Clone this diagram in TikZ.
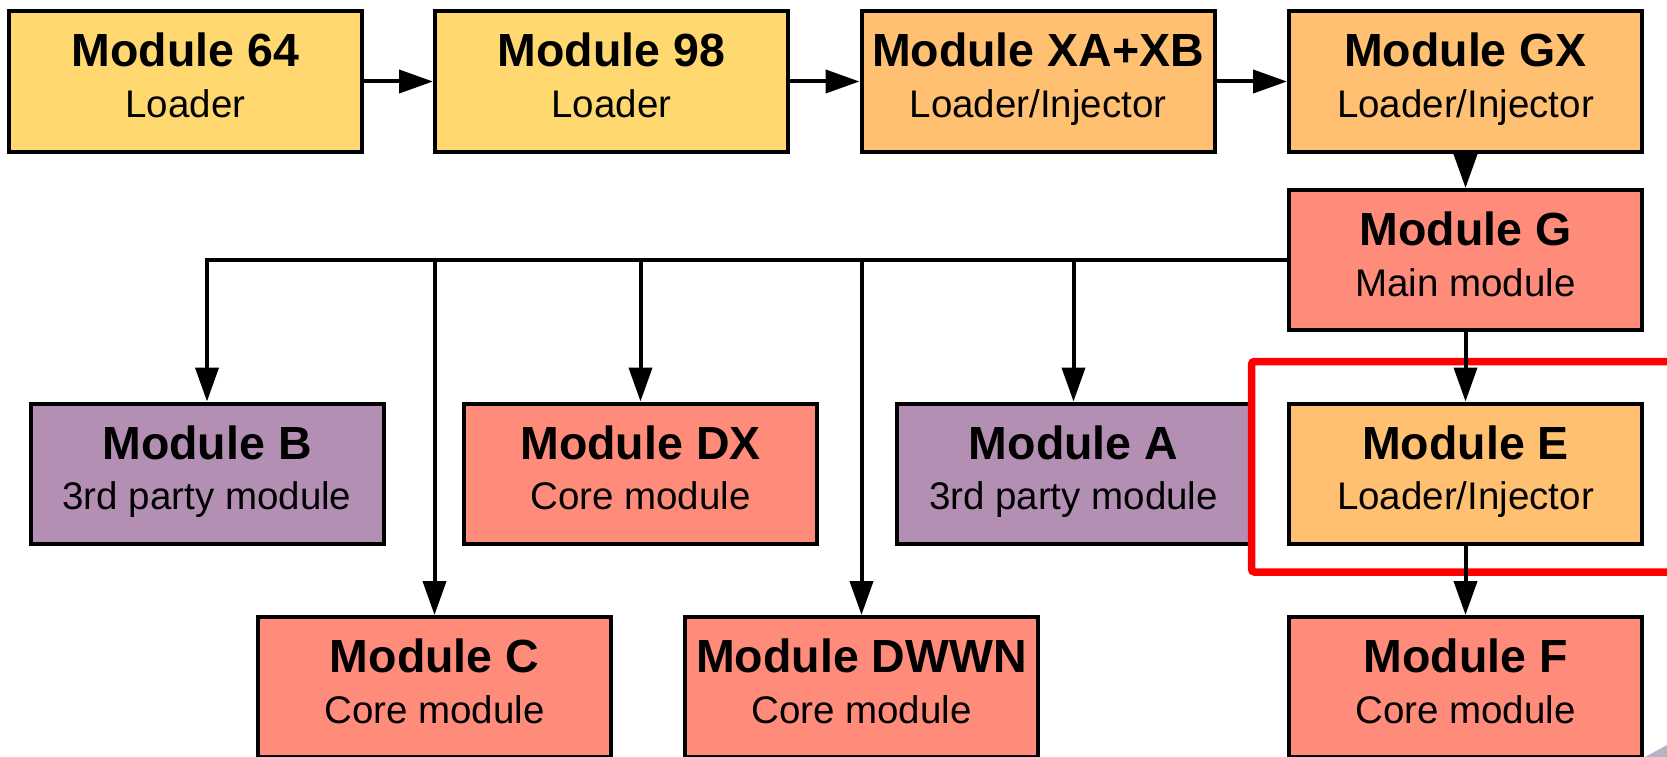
\documentclass[tikz,border=0pt]{standalone}
\usepackage{fontspec}
\setmainfont{Liberation Sans}
\usetikzlibrary{arrows.meta}

\definecolor{loaderyellow}{HTML}{FFD96F}
\definecolor{injectororange}{HTML}{FFC171}
\definecolor{coresalmon}{HTML}{FF8B7B}
\definecolor{thirdpurple}{HTML}{B48FB4}
\definecolor{curlgrey}{HTML}{B4B4C6}

\tikzset{
  modbox/.style={draw=black, line width=4pt, minimum width=353pt,
                 minimum height=140pt, inner sep=0pt},
  ttl/.style={font=\fontsize{46.5}{50}\selectfont\bfseries, anchor=base, inner sep=0pt},
  sub/.style={font=\fontsize{38.5}{42}\selectfont, anchor=base, inner sep=0pt},
  link/.style={line width=4pt, -{Triangle[length=34pt,width=23pt]}},
  highlight/.style={draw=red, line width=7.5pt, rounded corners=3pt},
}

% name, position, fill colour, title, subtitle
\newcommand\modnode[5]{%
  \node[modbox, fill=#3] (#1) at (#2) {};
  \node[ttl] (#1-t) at ([yshift=14.5pt]#1.center) {#4};
  \node[sub] (#1-s) at ([yshift=-36pt]#1.center) {#5};
}

\begin{document}
\begin{tikzpicture}[x=1pt, y=-1pt]
  \clip (0,0) rectangle (1667,757);
  \fill[white] (0,0) rectangle (1667,757);

  % top chain of loaders
  \modnode{m64}{185.5,81.5}{loaderyellow}{Module 64}{Loader}
  \modnode{m98}{611.5,81.5}{loaderyellow}{Module 98}{Loader}
  \modnode{mxa}{1038,81.5}{injectororange}{Module XA+XB}{Loader/Injector}
  \modnode{mgx}{1465.5,81.5}{injectororange}{Module GX}{Loader/Injector}

  % main module
  \modnode{mg}{1465.5,260}{coresalmon}{Module G}{Main module}

  % second row
  \modnode{mb}{207,473.5}{thirdpurple}{Module B}{3rd party module}
  \modnode{mdx}{640.5,473.5}{coresalmon}{Module DX}{Core module}
  \modnode{ma}{1073.5,473.5}{thirdpurple}{Module A}{3rd party module}
  \modnode{me}{1465.5,473.5}{injectororange}{Module E}{Loader/Injector}

  % bottom row
  \modnode{mc}{434.5,687}{coresalmon}{Module C}{Core module}
  \modnode{mdw}{861.5,687}{coresalmon}{Module DWWN}{Core module}
  \modnode{mf}{1465.5,687}{coresalmon}{Module F}{Core module}

  % highlight round Module E
  \draw[highlight] (1251.5,361.5) rectangle (1672,572);

  % connectors
  \draw[link] (m64) -- (m98);
  \draw[link] (m98) -- (mxa);
  \draw[link] (mxa) -- (mgx);
  \draw[link] (mgx) -- (mg);
  \draw[link] (mg) -- (me);
  \draw[link] (me) -- (mf);

  \draw[link] (mg.west) -| (mb.north);
  \draw[link] (mg.west) -| (mc.north);
  \draw[link] (mg.west) -| (mdx.north);
  \draw[link] (mg.west) -| (mdw.north);
  \draw[link] (mg.west) -| (ma.north);

  % page-curl corner
  \fill[curlgrey] (1645,757) -- (1667,745) -- (1667,757) -- cycle;
\end{tikzpicture}
\end{document}
